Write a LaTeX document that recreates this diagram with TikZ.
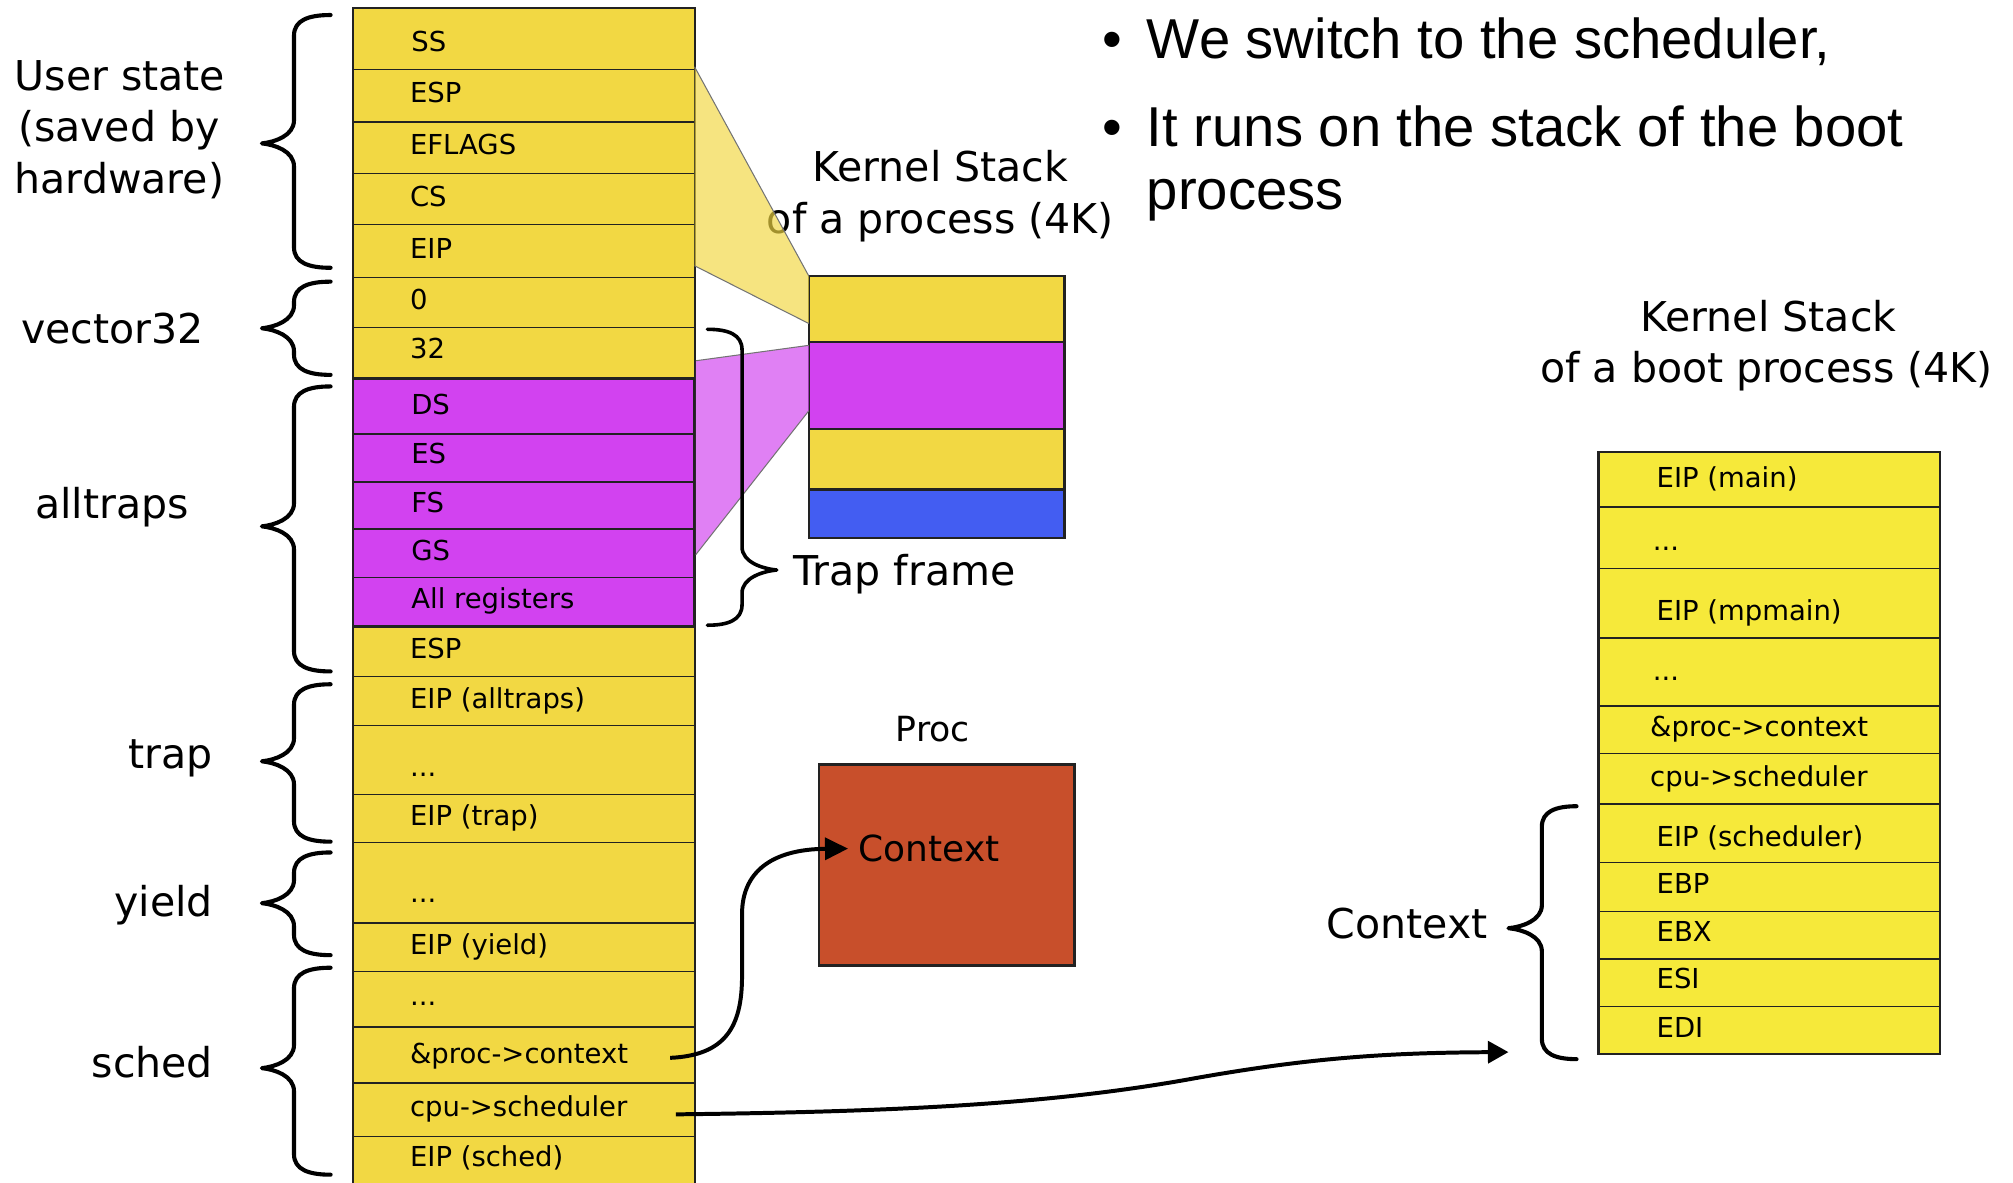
\documentclass[tikz,border=0pt]{standalone}
\usepackage{fontspec}
\setmainfont{DejaVu Sans}
\newfontfamily\bulfont{Liberation Sans}
\usetikzlibrary{arrows.meta,calc}
\definecolor{ystk}{HTML}{F2D843}
\definecolor{mstk}{HTML}{D242F0}
\definecolor{bstk}{HTML}{435DF2}
\definecolor{rstk}{HTML}{F6E93A}
\definecolor{procc}{HTML}{C84F2B}
\definecolor{edgec}{HTML}{222222}
\newcommand{\brc}[6]{\draw[bracestyle] (#1,#4) .. controls ({0.4*#1+0.6*#2},#4) and (#2,{#4+4}) .. (#2,{#4+16}) -- (#2,{#5-18}) .. controls (#2,{#5-6}) and ({0.6*#3+0.4*#2},{#5-1}) .. (#3,#5) .. controls ({0.6*#3+0.4*#2},{#5+1}) and (#2,{#5+6}) .. (#2,{#5+18}) -- (#2,{#6-16}) .. controls (#2,{#6-4}) and ({0.4*#1+0.6*#2},#6) .. (#1,#6);}
\tikzset{
  stxt/.style={font=\fontsize{10.7}{12}\selectfont, anchor=base west, inner sep=0pt},
  lbl/.style={font=\fontsize{16}{19}\selectfont, inner sep=0pt},
  bul/.style={font=\bulfont\fontsize{21.9}{26}\selectfont, anchor=base west, inner sep=0pt},
  cellline/.style={draw=edgec, line width=0.5pt},
  bracestyle/.style={draw=black, line width=1.6pt, line cap=round, line join=round},
  conn/.style={draw=black, line width=1.55pt, -{Triangle[length=9pt,width=8.5pt]}},
  kbox/.style={draw=edgec, line width=1pt},
  funnel/.style={opacity=0.67},
  funneledge/.style={draw=black!55, line width=0.4pt}
}
\begin{document}
\begin{tikzpicture}[x=0.5pt,y=-0.5pt]
\useasboundingbox (0,0) rectangle (1568,921);
\fill[white] (0,0) rectangle (1568,921);

% ---------------- left stack ----------------
\fill[ystk] (275,6) rectangle (541,940);
\fill[mstk] (275,295) rectangle (541,488);
\foreach \yy in {54,95,135,175,216,255,294,338,375.5,412,450,527,565,619,656.5,719,757,800,843.5,885}
  {\draw[cellline] (275,\yy) -- (541,\yy);}
\draw[draw=edgec, line width=0.8pt] (275,6) rectangle (541,940);
\draw[draw=edgec, line width=1.1pt] (275,295) rectangle (541,488);

\node[stxt] (lss)  at (320,40)    {SS};
\node[stxt] (lesp) at (319,80)    {ESP};
\node[stxt] (lefl) at (319,120.5) {EFLAGS};
\node[stxt] (lcs)  at (319,161)   {CS};
\node[stxt] (leip) at (319,201)   {EIP};
\node[stxt] (lz)   at (319,241)   {0};
\node[stxt] (l32)  at (319,279.5) {32};
\node[stxt] (lds)  at (320,323)   {DS};
\node[stxt] (les)  at (320,361)   {ES};
\node[stxt] (lfs)  at (320,399)   {FS};
\node[stxt] (lgs)  at (320,436.5) {GS};
\node[stxt] (lall) at (320,474)   {All registers};
\node[stxt] (lesp2) at (319,513)  {ESP};
\node[stxt] (leipa) at (319,551.5) {EIP (alltraps)};
\node[stxt] (ld1)  at (319,604.5) {...};
\node[stxt] (leipt) at (319,643)  {EIP (trap)};
\node[stxt] (ld2)  at (319,703)   {...};
\node[stxt] (leipy) at (319,743.5) {EIP (yield)};
\node[stxt] (ld3)  at (319,783)   {...};
\node[stxt] (lpc)  at (319,828)   {\&proc->context};
\node[stxt] (lcpu) at (319,870)   {cpu->scheduler};
\node[stxt] (leips) at (319,909)  {EIP (sched)};

% ---------------- left labels ----------------
\node[lbl, anchor=base] (us1) at (93.4,70.6) {User state};
\node[lbl, anchor=base] (us2) at (92.6,110.5) {(saved by};
\node[lbl, anchor=base] (us3) at (93,151) {hardware)};
\node[lbl, anchor=base] (v32) at (87.6,267.4) {vector32};
\node[lbl, anchor=base] (alt) at (87.3,403.7) {alltraps};
\node[lbl, anchor=base east] (trp) at (166.3,598.5) {trap};
\node[lbl, anchor=base east] (yld) at (166.3,714) {yield};
\node[lbl, anchor=base east] (sch) at (166.3,839.4) {sched};

% ---------------- small kernel stack ----------------
\node[lbl, anchor=base] (kt1) at (732.5,141.5) {Kernel Stack};
\node[lbl, anchor=base] (kt2) at (732.5,182) {of a process (4K)};
\draw[kbox, fill=ystk] (630,215) rectangle (829,266.5);
\draw[kbox, fill=mstk] (630,266.5) rectangle (829,334);
\draw[kbox, fill=ystk] (630,334) rectangle (829,381.5);
\draw[kbox, fill=bstk] (630,381.5) rectangle (829,419);

% funnels
\fill[ystk, funnel] (541,52) -- (630,215) -- (630,252) -- (541,207) -- cycle;
\draw[funneledge] (541,52) -- (630,215);
\draw[funneledge] (541,207) -- (630,252);
\fill[mstk, funnel] (542,281) -- (630,269) -- (630,320) -- (542,432) -- cycle;
\draw[funneledge] (542,281) -- (630,269);
\draw[funneledge] (542,432) -- (630,320);

% ---------------- braces ----------------
\brc{257.5}{229}{204}{11.7}{111.7}{208.6}
\brc{257.5}{229}{204}{219.4}{255.7}{292}
\brc{257.5}{229}{204}{301}{410}{523}
\brc{257.5}{229}{204}{533}{593}{655.6}
\brc{257.5}{229}{204}{664}{703.5}{744}
\brc{257.5}{229}{204}{753.8}{832}{915}
\begin{scope}[bracestyle/.append style={line width=1.4pt}]
\brc{551}{578}{605}{256.5}{444}{487}
\end{scope}
\node[lbl, anchor=base west] (tfr) at (617.8,456) {Trap frame};

% ---------------- proc ----------------
\node[font=\fontsize{13.5}{16}\selectfont, anchor=base, inner sep=0pt] (proc) at (726.7,577.7) {Proc};
\draw[draw=edgec, line width=0.9pt, fill=procc] (638,595.5) rectangle (837,752);
\node[font=\fontsize{14}{17}\selectfont, anchor=base west, inner xsep=4pt, inner ysep=0pt] (ctx) at (660.6,671.2) {Context};

% ---------------- boot stack ----------------
\node[lbl, anchor=base] (bt1) at (1377.5,258) {Kernel Stack};
\node[lbl, anchor=base] (bt2) at (1376,298) {of a boot process (4K)};
\fill[rstk] (1245,352) rectangle (1511,821);
\foreach \yy in {395,443,497,550,587,710,747,784}
  {\draw[cellline] (1245,\yy) -- (1511,\yy);}
\draw[draw=edgec, line width=0.8pt] (1245,626) -- (1511,626);
\draw[draw=edgec, line width=0.6pt] (1245,672) -- (1511,672);
\draw[draw=edgec, line width=1pt] (1245,352) rectangle (1511,821);

\node[stxt] (rmain) at (1290,380)   {EIP (main)};
\node[stxt] (rd1)   at (1287,429)   {...};
\node[stxt] (rmp)   at (1290,483)   {EIP (mpmain)};
\node[stxt] (rd2)   at (1287,530)   {...};
\node[stxt] (rpc)   at (1285,574)   {\&proc->context};
\node[stxt] (rcpu)  at (1285,613)   {cpu->scheduler};
\node[stxt] (reips) at (1290,659)   {EIP (scheduler)};
\node[stxt] (rebp)  at (1290,696)   {EBP};
\node[stxt] (rebx)  at (1290,733)   {EBX};
\node[stxt] (resi)  at (1290,770)   {ESI};
\node[stxt] (redi)  at (1290,808)   {EDI};

\brc{1228}{1201}{1175}{628}{723}{825}
\node[lbl, anchor=base west] (rctx) at (1033,730.9) {Context};

% ---------------- bullets ----------------
\node[bul] (b1d) at (858,45.4)  {•};
\node[bul] (b1)  at (893,45.4) {We switch to the scheduler,};
\node[bul] (b2d) at (858,114.3) {•};
\node[bul] (b2)  at (893,114.3) {It runs on the stack of the boot};
\node[bul] (b3)  at (893,163) {process};

% ---------------- connectors ----------------
\coordinate (pcs) at (522,824);
\draw[conn] (pcs) .. controls (565,822) and (578,800) .. (578,760) -- (578,712) .. controls (578,680) and (600,661.5) .. (ctx.west);
\coordinate (css) at (526.5,868);
\coordinate (cse) at (1175,819.5);
\draw[conn, -{Triangle[length=8pt,width=8.5pt]}] (css) .. controls (700,866) and (820,860) .. (930,840) .. controls (1020,824) and (1080,820) .. (cse);
\end{tikzpicture}
\end{document}
